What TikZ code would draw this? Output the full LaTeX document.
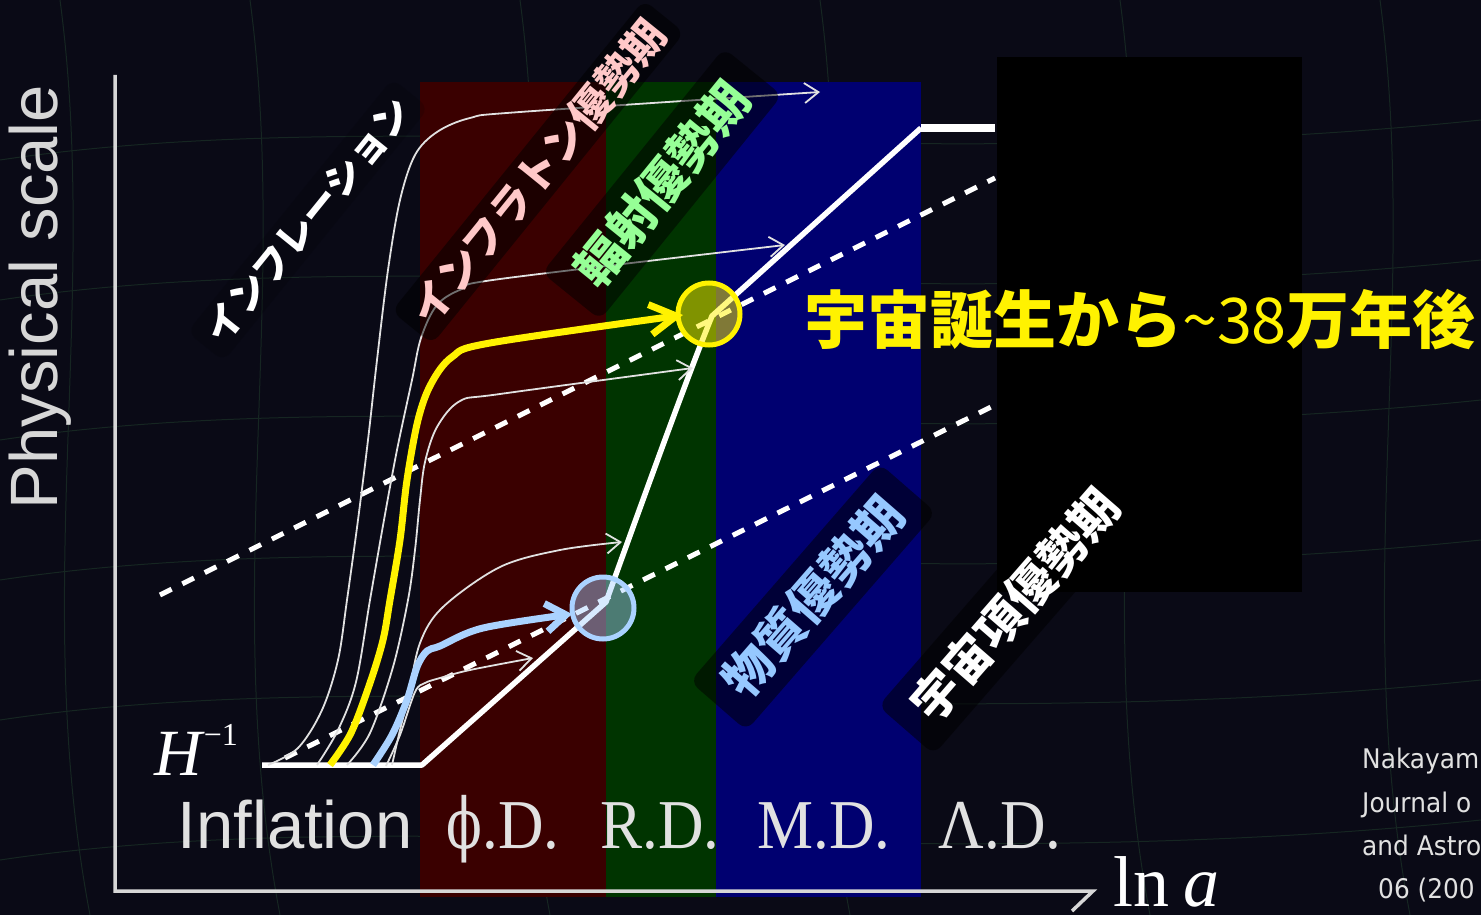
\documentclass[tikz,border=0pt]{standalone}
\usepackage{fontspec}
\setmainfont{Liberation Serif}
\newfontfamily\lsans{Liberation Sans}
\newfontfamily\lserif[FakeStretch=0.9]{Liberation Serif}
\newfontfamily\dvserif{DejaVu Serif}
\newfontfamily\citefont[FakeStretch=0.92]{DejaVu Sans}
\newfontfamily\jp{Noto Sans CJK JP}
\usetikzlibrary{arrows.meta}
\definecolor{bg}{RGB}{10,10,22}
\definecolor{bandred}{RGB}{58,0,0}
\definecolor{bandgreen}{RGB}{0,52,0}
\definecolor{bandblue}{RGB}{0,0,112}
\definecolor{curvegray}{RGB}{225,225,225}
\definecolor{axisgray}{RGB}{215,215,215}
\definecolor{pinktext}{RGB}{255,200,200}
\definecolor{greentext}{RGB}{150,255,150}
\definecolor{bluetext}{RGB}{150,200,255}
\definecolor{lightblue}{RGB}{170,210,255}
\definecolor{gridline}{RGB}{22,38,34}
\tikzset{
  thincurve/.style={draw=curvegray, line width=1.8pt, -{Straight Barb[length=14pt,width=20pt]}},
  dashline/.style={draw=white, line width=5pt, dash pattern=on 13pt off 12pt},
  horizon/.style={draw=white, line width=5.5pt, line join=round},
  axisline/.style={draw=axisgray, line width=3.5pt},
  jlabel/.style={font=\jp\bfseries, fill=black, fill opacity=0.5, text opacity=1, rounded corners=10pt, inner xsep=12pt, inner ysep=6pt, rotate=51},
  botlabel/.style={text=curvegray, anchor=base, inner sep=0pt},
}
\begin{document}
\begin{tikzpicture}[x=1pt,y=-1pt]
\useasboundingbox (0,0) rectangle (1481,915);
% background
\fill[bg] (0,0) rectangle (1481,915);
\foreach \yy in {120,260,400,540,680,820}{
  \draw[gridline, line width=1pt] (0,\yy+40) .. controls (400,\yy-20) and (900,\yy+60) .. (1481,\yy);
}
\foreach \xx in {60,250,520,820,1120,1380}{
  \draw[gridline, line width=1pt] (\xx,0) .. controls (\xx+40,300) and (\xx-30,600) .. (\xx+30,915);
}
% bands
\fill[bandred] (420,82) rectangle (606,897);
\fill[bandgreen] (606,82) rectangle (716,897);
\fill[bandblue] (716,82) rectangle (921,897);
% dashed lines
\coordinate (du0) at (160,595); \coordinate (du1) at (995,178);
\coordinate (dl0) at (285,758); \coordinate (dl1) at (995,405);
\draw[dashline] (du0) -- (du1);
\draw[dashline] (dl0) -- (dl1);
% horizon
\coordinate (h0) at (262,765); \coordinate (h1) at (422,765);
\coordinate (h2) at (606,602); \coordinate (h3) at (712,316);
\coordinate (h4) at (921,128); \coordinate (h5) at (995,128);
\draw[horizon] (h0) -- (h1) -- (h2) .. controls (650,480) and (690,370) .. (h3) -- (h4);
\draw[horizon, line width=8pt] (h4) -- (h5);
% thin curves
\coordinate (hA) at (268,765); \coordinate (tA) at (820,92);
\coordinate (hB) at (317,765); \coordinate (tB) at (785,245);
\coordinate (hD) at (347,765); \coordinate (tD) at (693,368);
\coordinate (hE) at (392,765); \coordinate (tE) at (622,542);
\coordinate (hF) at (386,766); \coordinate (tF) at (533,658);
\draw[thincurve] plot[smooth, tension=0.55] coordinates {(hA) (298,748) (322,710) (338,660) (347,600) (358,520) (368,440) (377,360) (388,270) (400,200) (415,155) (437,132) (470,118) (520,112) (tA)};
\draw[thincurve] plot[smooth, tension=0.55] coordinates {(hB) (338,730) (356,682) (370,600) (384,520) (397,450) (412,380) (421,338) (437,305) (462,289) (500,279) (tB)};
\draw[thincurve] plot[smooth, tension=0.55] coordinates {(hD) (370,733) (393,667) (408,600) (415,550) (420,500) (425,462) (437,427) (460,401) (500,394) (tD)};
\draw[thincurve] plot[smooth, tension=0.55] coordinates {(hE) (400,730) (408,698) (420,643) (443,607) (500,567) (560,550) (tE)};
\draw[thincurve] plot[smooth, tension=0.55] coordinates {(hF) (400,735) (415,692) (425,683) (440,678) (470,670) (tF)};
% yellow and blue
\coordinate (hY) at (330,765); \coordinate (tY) at (683,315);
\coordinate (hL) at (373,765); \coordinate (tL) at (572,614);
\draw[yellow, line width=7pt, -{Straight Barb[length=26pt,width=30pt]}] plot[smooth, tension=0.55] coordinates {(hY) (351,733) (370,683) (383,640) (390,600) (400,540) (407,480) (418,420) (431,384) (452,357) (490,343) (tY)};
\draw[lightblue, line width=7pt, -{Straight Barb[length=20pt,width=28pt]}] plot[smooth, tension=0.55] coordinates {(hL) (392,735) (407,700) (417,667) (427,651) (440,646) (483,628) (tL)};
% circles
\node[circle, minimum size=62pt, inner sep=0pt, draw=yellow, line width=5pt, fill=yellow, fill opacity=0.5, draw opacity=1] (cy) at (709,314) {};
\node[circle, minimum size=62pt, inner sep=0pt, draw=lightblue, line width=5pt, fill=lightblue, fill opacity=0.45, draw opacity=1] (cb) at (603,608) {};
% axes
\coordinate (o) at (115,891); \coordinate (ytop) at (115,75); \coordinate (xend) at (1093,891);
\coordinate (xbarb) at (1072,911);
\draw[axisline] (ytop) -- (o) -- (xend) -- (xbarb);
% black box
\fill[black] (997,57) rectangle (1302,592);
% rotated Japanese labels
\node[jlabel, text=white, fill opacity=0.15, font=\jp\bfseries\fontsize{38}{40}\selectfont] (linf) at (308,220) {インフレーション};
\node[jlabel, text=pinktext, font=\jp\bfseries\fontsize{42}{44}\selectfont] (linfl) at (538,172) {インフラトン優勢期};
\node[jlabel, text=greentext, font=\jp\bfseries\fontsize{49}{50}\selectfont, inner xsep=22pt, inner ysep=14pt] (lrad) at (662,184) {輻射優勢期};
\node[jlabel, text=bluetext, font=\jp\bfseries\fontsize{49}{50}\selectfont, inner xsep=22pt, inner ysep=14pt, rotate=-2] (lmat) at (813,597) {物質優勢期};
\node[jlabel, text=white, font=\jp\bfseries\fontsize{48}{50}\selectfont, inner xsep=22pt, inner ysep=14pt, rotate=-2] (llam) at (1015,605) {宇宙項優勢期};
% yellow text
\node[text=yellow, font=\jp\bfseries\fontsize{63}{64}\selectfont, inner sep=0pt] (yt) at (1140,320) {宇宙誕生から{\mdseries\char"007E 38}万年後};
% axis labels
\node[text=axisgray, font=\lsans\fontsize{67}{70}\selectfont, rotate=90, inner sep=0pt] (ylab) at (40,297) {Physical scale};
\node[botlabel, font=\lsans\fontsize{67}{70}\selectfont] (binf) at (295,848) {Inflation};
\node[botlabel, font=\lserif\fontsize{70}{72}\selectfont] (bphi) at (503,848) {{\dvserif\scalebox{0.75}[1]{ϕ}}.D.};
\node[botlabel, font=\lserif\fontsize{70}{72}\selectfont] (brd) at (660,848) {R.D.};
\node[botlabel, font=\lserif\fontsize{70}{72}\selectfont] (bmd) at (824,848) {M.D.};
\node[botlabel, font=\lserif\fontsize{70}{72}\selectfont] (bld) at (1000,848) {Λ.D.};
\node[anchor=base west, inner sep=0pt, text=white, font=\fontsize{66}{66}\selectfont] (hinv) at (154,775) {\itshape H\hspace{2pt}\raisebox{30pt}{\upshape\fontsize{32}{32}\selectfont −1}};
\node[anchor=base west, inner sep=0pt, text=white, font=\fontsize{72}{72}\selectfont] (lna) at (1113,906) {ln\hspace{14pt}\itshape a};
% citation
\node[anchor=base west, inner sep=0pt, text=curvegray, font=\citefont\fontsize{27}{42}\selectfont] (cite1) at (1362,768) {Nakayam};
\node[anchor=base west, inner sep=0pt, text=curvegray, font=\citefont\fontsize{27}{42}\selectfont] (cite2) at (1362,812) {Journal o};
\node[anchor=base west, inner sep=0pt, text=curvegray, font=\citefont\fontsize{27}{42}\selectfont] (cite3) at (1362,855) {and Astro};
\node[anchor=base west, inner sep=0pt, text=curvegray, font=\citefont\fontsize{27}{42}\selectfont] (cite4) at (1378,898) {06 (200};
\end{tikzpicture}
\end{document}
